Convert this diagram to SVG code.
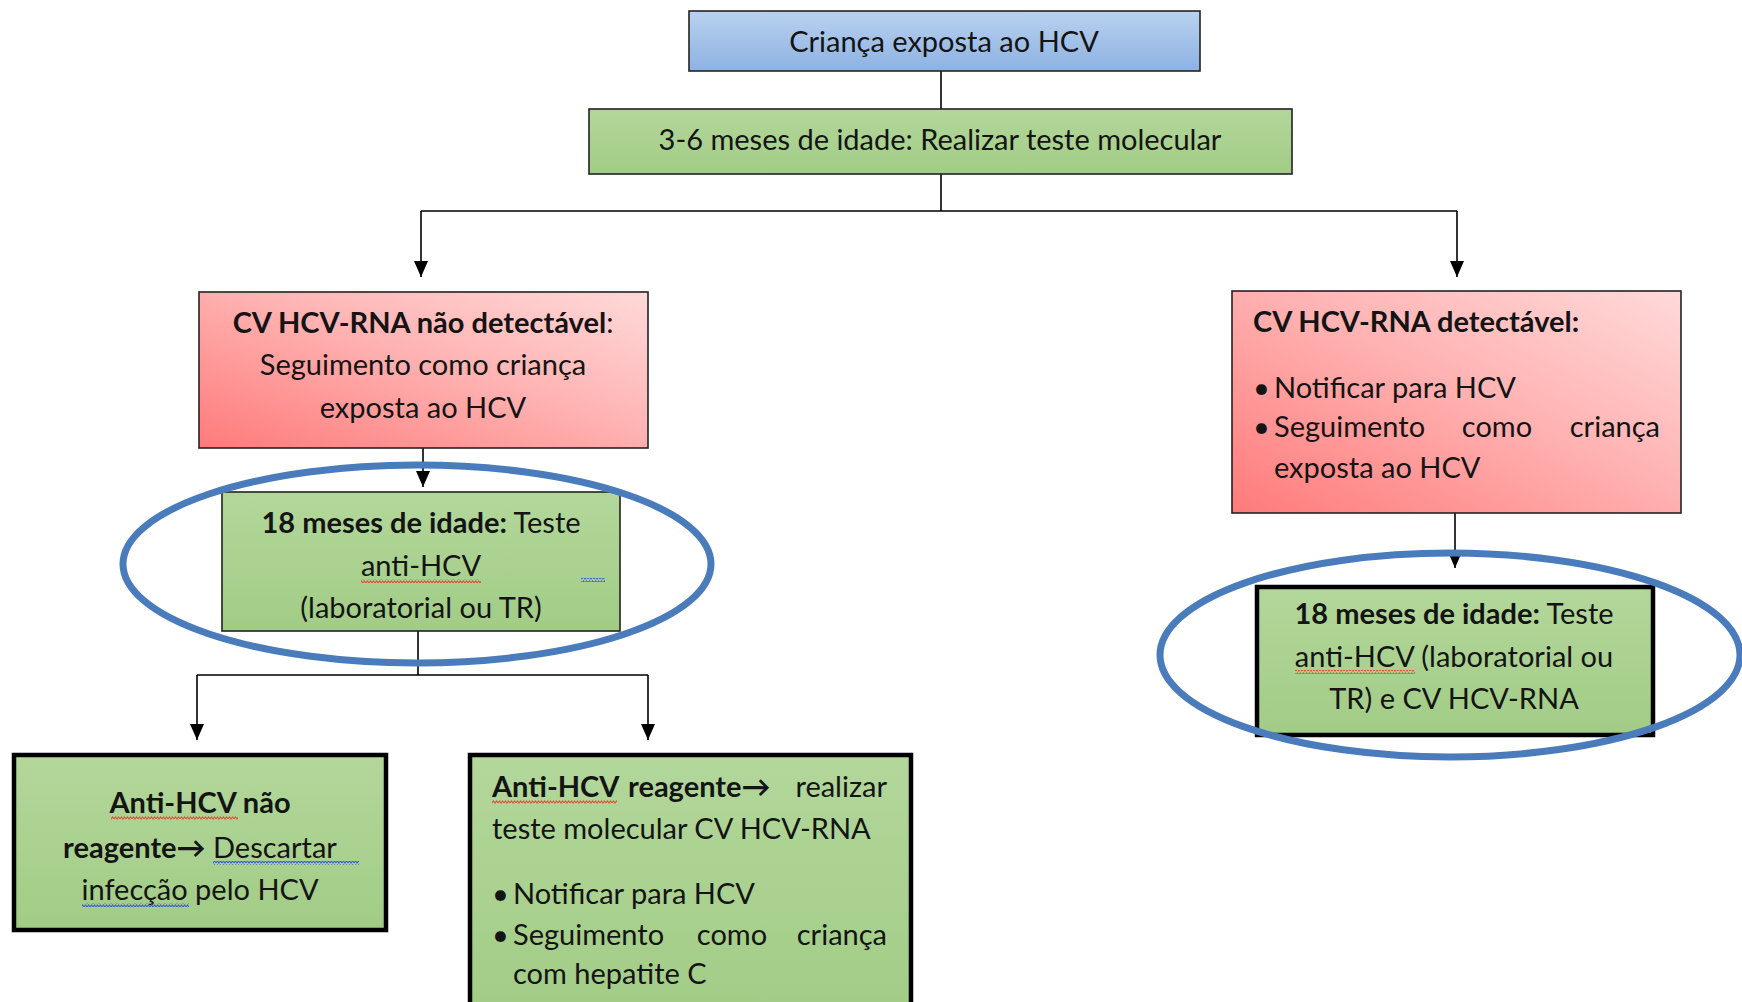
<svg xmlns="http://www.w3.org/2000/svg" width="1742" height="1002" viewBox="0 0 1742 1002">
<defs>
<linearGradient id="gBlue" x1="0" y1="0" x2="0" y2="1"><stop offset="0" stop-color="#b9d1ef"/><stop offset="1" stop-color="#8db2e2"/></linearGradient>
<linearGradient id="gGreen" x1="0" y1="0" x2="0" y2="1"><stop offset="0" stop-color="#b3d79b"/><stop offset="1" stop-color="#a2cc86"/></linearGradient>
<linearGradient id="gRed" x1="0" y1="1" x2="1" y2="0"><stop offset="0" stop-color="#ff7a7a"/><stop offset="0.55" stop-color="#ffb3b3"/><stop offset="1" stop-color="#ffd9d9"/></linearGradient>
<pattern id="wRed" width="6" height="4" patternUnits="userSpaceOnUse"><path d="M0,3 L1.5,1 L3,3 L4.5,1 L6,3" fill="none" stroke="#e0503a" stroke-width="1.1"/></pattern>
<pattern id="wBlue" width="6" height="4" patternUnits="userSpaceOnUse"><path d="M0,3 L1.5,1 L3,3 L4.5,1 L6,3" fill="none" stroke="#3c5fd8" stroke-width="1.1"/></pattern>
<marker id="arr" markerWidth="16" markerHeight="14" refX="16" refY="7" orient="auto" markerUnits="userSpaceOnUse" viewBox="0 0 16 14"><path d="M0,0 L16,7 L0,14 Z" fill="#000"/></marker>
<style>
text{font-family:Lato,"Open Sans","Liberation Sans",sans-serif;font-size:29px;fill:#141414}
.c{text-anchor:middle}
.e{text-anchor:end}
.b{font-weight:bold}
.box{stroke:#222;stroke-width:1.6}
.thick{stroke:#000;stroke-width:4.5}
.con{fill:none;stroke:#000;stroke-width:1.6}
.ell{fill:none;stroke:#4a7cbc;stroke-width:7}
</style>
</defs>

<g id="connectors">
<path class="con" d="M941,71 V109"/>
<path class="con" d="M941,174 V211 M421,211 H1457"/>
<path class="con" d="M421,211 V277" marker-end="url(#arr)"/>
<path class="con" d="M1457,211 V277" marker-end="url(#arr)"/>
<path class="con" d="M423,448 V487" marker-end="url(#arr)"/>
<path class="con" d="M418,631 V675 M197,675 H648"/>
<path class="con" d="M197,675 V740" marker-end="url(#arr)"/>
<path class="con" d="M648,675 V740" marker-end="url(#arr)"/>
<path class="con" d="M1455,513 V568" marker-end="url(#arr)"/>
</g>

<g id="n-exposta">
<rect class="box" x="689" y="11" width="511" height="60" fill="url(#gBlue)"/>
<text class="c" x="944" y="52">Criança exposta ao HCV</text>
</g>

<g id="n-3-6meses">
<rect class="box" x="589" y="109" width="703" height="65" fill="url(#gGreen)"/>
<text class="c" x="940" y="150">3-6 meses de idade: Realizar teste molecular</text>
</g>

<g id="n-nao-detectavel">
<rect class="box" x="199" y="292" width="449" height="156" fill="url(#gRed)"/>
<text class="c" x="423" y="333"><tspan class="b">CV HCV-RNA não detectável</tspan>:</text>
<text class="c" x="423" y="375">Seguimento como criança</text>
<text class="c" x="423" y="418">exposta ao HCV</text>
</g>

<g id="n-detectavel">
<rect class="box" x="1232" y="291" width="449" height="222" fill="url(#gRed)"/>
<text class="b" x="1253" y="332">CV HCV-RNA detectável:</text>
<text x="1253" y="398">•</text>
<text x="1274" y="398">Notificar para HCV</text>
<text x="1253" y="437">•</text>
<text x="1274" y="437">Seguimento</text>
<text class="c" x="1497" y="437">como</text>
<text class="e" x="1660" y="437">criança</text>
<text x="1274" y="478">exposta ao HCV</text>
</g>

<g id="n-18meses-esq">
<rect class="box" x="222" y="492" width="398" height="139" fill="url(#gGreen)"/>
<text class="c" x="421" y="533"><tspan class="b">18 meses de idade:</tspan> Teste</text>
<text class="c" x="421" y="576">anti-HCV</text>
<rect x="361" y="579" width="120" height="4" fill="url(#wRed)"/>
<rect x="581" y="578" width="24" height="4" fill="url(#wBlue)"/>
<text class="c" x="421" y="618">(laboratorial ou TR)</text>
<ellipse class="ell" cx="417" cy="564" rx="294" ry="99"/>
</g>

<g id="n-nao-reagente">
<rect class="thick" x="14" y="755" width="372" height="175" fill="url(#gGreen)"/>
<text class="c b" x="200" y="813">Anti-HCV não</text>
<rect x="111" y="816" width="127" height="4" fill="url(#wRed)"/>
<text class="c" x="200" y="858"><tspan class="b">reagente→</tspan> Descartar</text>
<rect x="213" y="861" width="146" height="4" fill="url(#wBlue)"/>
<text class="c" x="200" y="900">infecção pelo HCV</text>
<rect x="82" y="903" width="107" height="4" fill="url(#wBlue)"/>
</g>

<g id="n-reagente">
<rect class="thick" x="470" y="755" width="441" height="260" fill="url(#gGreen)"/>
<text class="b" x="492" y="797">Anti-HCV</text>
<rect x="492" y="800" width="125" height="4" fill="url(#wRed)"/>
<text class="b" x="628" y="797">reagente→</text>
<text class="e" x="887" y="797">realizar</text>
<text x="492" y="839">teste molecular CV HCV-RNA</text>
<text x="492" y="904">•</text>
<text x="513" y="904">Notificar para HCV</text>
<text x="492" y="945">•</text>
<text x="513" y="945">Seguimento</text>
<text class="c" x="732" y="945">como</text>
<text class="e" x="887" y="945">criança</text>
<text x="513" y="984">com hepatite C</text>
</g>

<g id="n-18meses-dir">
<rect class="thick" x="1257" y="587" width="396" height="148" fill="url(#gGreen)"/>
<text class="c" x="1454" y="624"><tspan class="b">18 meses de idade:</tspan> Teste</text>
<text class="c" x="1454" y="667">anti-HCV (laboratorial ou</text>
<rect x="1295" y="670" width="120" height="4" fill="url(#wRed)"/>
<text class="c" x="1454" y="709">TR) e CV HCV-RNA</text>
<ellipse class="ell" cx="1450" cy="655" rx="290" ry="102"/>
</g>
</svg>
